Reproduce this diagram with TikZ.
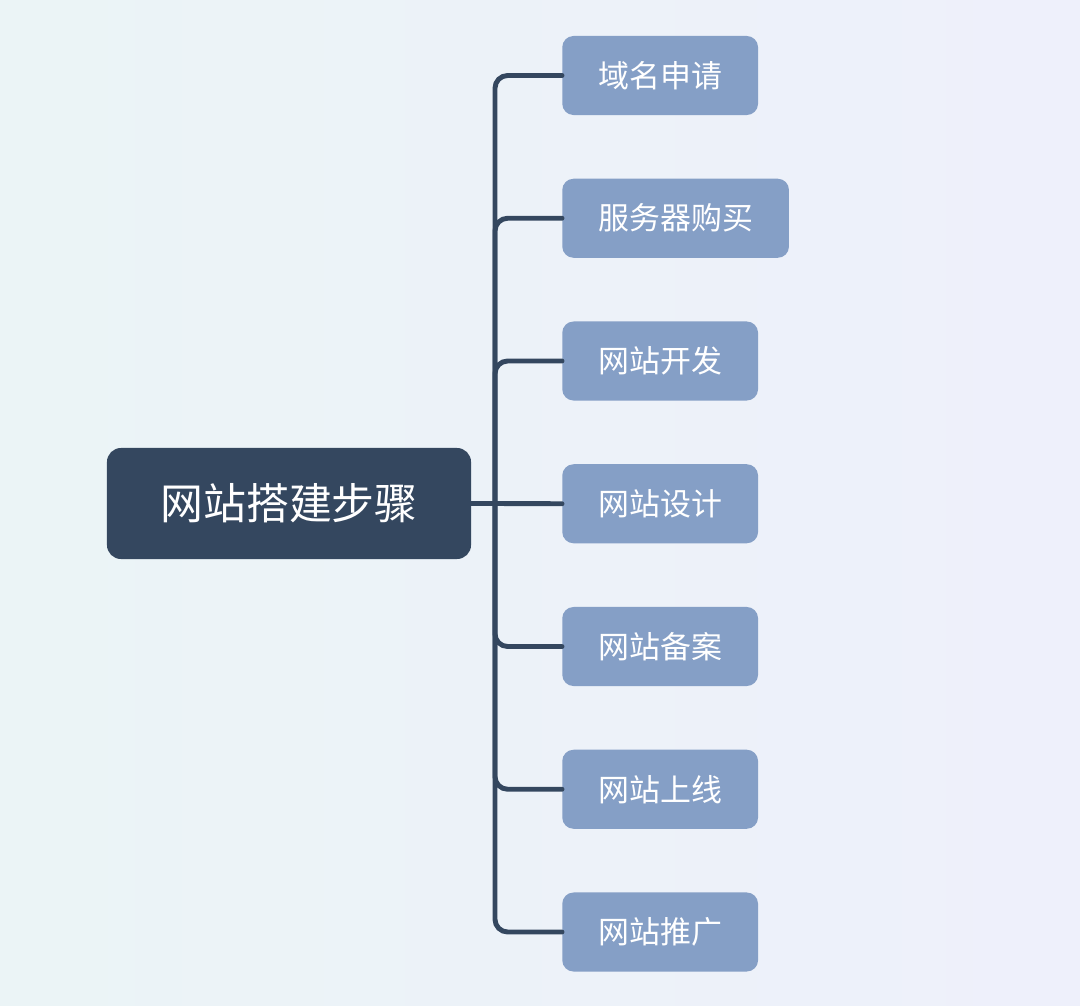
\documentclass[tikz,border=0pt]{standalone}
\usepackage{fontspec}
\newfontfamily\cjk{Noto Sans CJK SC}
\usetikzlibrary{positioning}

\definecolor{navy}{HTML}{34475F}
\definecolor{stepblue}{HTML}{859FC6}
\definecolor{bgleft}{HTML}{EBF4F6}
\definecolor{bgright}{HTML}{EEF0FB}

\tikzset{
	rootbox/.style={fill=navy, text=white, rounded corners=10pt, minimum width=9.1cm,
		minimum height=2.775cm, font=\cjk\fontsize{30.5pt}{36pt}\selectfont},
	stepbox/.style={fill=stepblue, text=white, rounded corners=8pt, anchor=west,
		minimum width=4.85cm, minimum height=1.975cm, inner xsep=0.9cm,
		font=\cjk\fontsize{22pt}{26pt}\selectfont},
	branch/.style={draw=navy, line width=3.5pt, rounded corners=9pt, line cap=round}
}

\begin{document}
\begin{tikzpicture}[x=0.025cm, y=-0.025cm]
	% 背景
	\shade[left color=bgleft, right color=bgright] (0,0) rectangle (1080,1006);
	\useasboundingbox (0,0) rectangle (1080,1006);
	
	% 中心主题
	\node[rootbox] (root) at (289,503.5) {网站搭建步骤};
	\coordinate (hub) at (495,503.5);
	
	% 各个步骤
	\foreach \name/\txt [count=\i from 0] in {domain/域名申请, server/服务器购买,
		develop/网站开发, design/网站设计, record/网站备案, online/网站上线, promote/网站推广}
	{
		\node[stepbox] (\name) at (562,{75.5+142.75*\i}) {\txt};
		\ifnum\i=3
			\draw[branch] (hub) -- (\name.west);
		\else
			\draw[branch] (hub) |- (\name.west);
		\fi
	}
	
	% 主题到主干
	\draw[branch, rounded corners=0pt] (root.east) -- (hub);
	
\end{tikzpicture}
\end{document}
